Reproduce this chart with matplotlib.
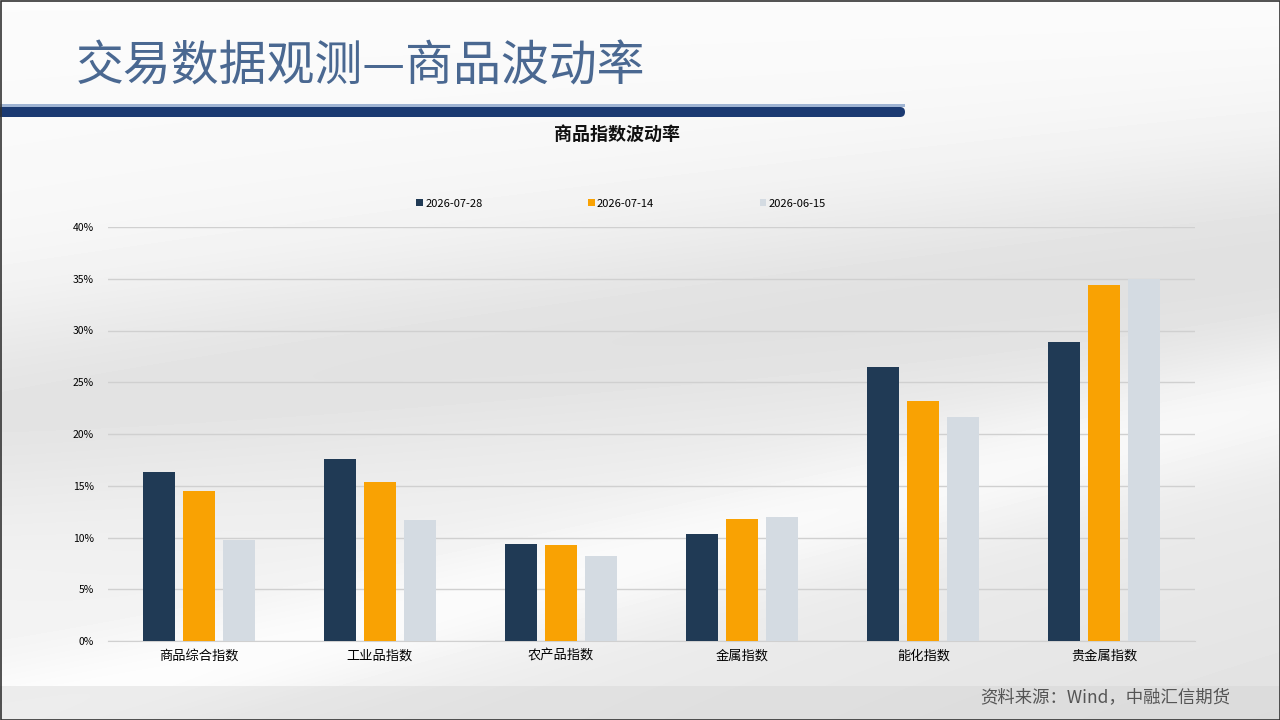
import numpy as np
import matplotlib
matplotlib.use("Agg")
import matplotlib.pyplot as plt
from matplotlib.patches import FancyBboxPatch, Rectangle
from matplotlib.ticker import FuncFormatter

plt.rcParams['font.family'] = ['Noto Sans CJK SC', 'DejaVu Sans']

# ---- data ----
categories = ['商品综合指数', '工业品指数', '农产品指数', '金属指数', '能化指数', '贵金属指数']
series_names = ['2026-07-28', '2026-07-14', '2026-06-15']
vol_0728 = [16.3, 17.6, 9.4, 10.3, 26.5, 28.9]
vol_0714 = [14.5, 15.4, 9.3, 11.8, 23.2, 34.4]
vol_0615 = [9.8, 11.7, 8.2, 12.0, 21.6, 35.0]
colors = ['#203a55', '#f9a203', '#d4dbe2']

fig = plt.figure(figsize=(12.8, 7.2), dpi=100)

# ---- slide background (gradient) ----
bg = fig.add_axes([0, 0, 1, 1], zorder=0)
bg.set_xlim(0, 1280)
bg.set_ylim(720, 0)
bg.axis('off')
yy, xx = np.mgrid[0:720, 0:1280]
base = 0.985 - 0.10 * (yy / 720.0) * (0.4 + 0.6 * xx / 1280.0)
streak = 0.05 * np.exp(-((yy - 560 + 0.25 * (xx - 640)) / 60.0) ** 2)
shade = 0.07 * np.exp(-((yy - 330 + 0.12 * (xx - 640)) / 110.0) ** 2)
img = np.clip(base + streak - shade, 0, 1)
bg.imshow(img, cmap='gray', vmin=0, vmax=1, extent=[0, 1280, 720, 0], aspect='auto')
bg.add_patch(Rectangle((0, 686), 1280, 34, color='#cfcfcf', alpha=0.35, lw=0))

# header band
bg.add_patch(FancyBboxPatch((-20, 107), 925, 10, boxstyle="round,pad=0,rounding_size=5",
                            fc='#1b3a72', ec='none'))
bg.add_patch(Rectangle((0, 104), 905, 3, color='#9fb4d3', lw=0))
bg.text(76, 67, '交易数据观测—商品波动率', fontsize=34.5, color='#4a6891',
        va='center', ha='left')
bg.text(1230, 697, '资料来源：Wind，中融汇信期货', fontsize=12.5, color='#555555',
        va='center', ha='right')
bg.add_patch(Rectangle((0.5, 0.5), 1279, 719, fill=False, ec='#333333', lw=1.2))

# ---- chart ----
ax = fig.add_axes([108 / 1280, 1 - 641 / 720, (1195 - 108) / 1280, (641 - 227) / 720], zorder=2)
ax.patch.set_alpha(0)
x = np.arange(len(categories))
w = 0.177
step = 0.221
for i, (vals, c, name) in enumerate(zip([vol_0728, vol_0714, vol_0615], colors, series_names)):
    ax.bar(x + (i - 1) * step, vals, width=w, color=c, label=name, zorder=3)

ax.set_xlim(-0.5, len(categories) - 0.5)
ax.set_ylim(0, 40)
ax.set_yticks(np.arange(0, 41, 5))
ax.yaxis.set_major_formatter(FuncFormatter(lambda v, p: f'{v:.0f}%'))
ax.set_xticks(x)
ax.set_xticklabels(categories, fontsize=9.5)
ax.tick_params(axis='y', labelsize=7.5, length=0, pad=10)
ax.tick_params(axis='x', length=0, pad=6)
ax.grid(axis='y', color='#d0d0d0', lw=1, zorder=0)
for s in ['top', 'right', 'left']:
    ax.spines[s].set_visible(False)
ax.spines['bottom'].set_color('#d0d0d0')

ax.legend(loc='lower center', bbox_to_anchor=(0.472, 1.02), ncol=3, frameon=False,
          fontsize=8, handlelength=0.6, handleheight=0.6, handletextpad=0.2,
          columnspacing=9.5)

fig.text(617 / 1280, 1 - 134 / 720, '商品指数波动率', fontsize=13, fontweight='bold',
         ha='center', va='center', color='#111111', zorder=3)

fig.savefig('out.png', dpi=100)
